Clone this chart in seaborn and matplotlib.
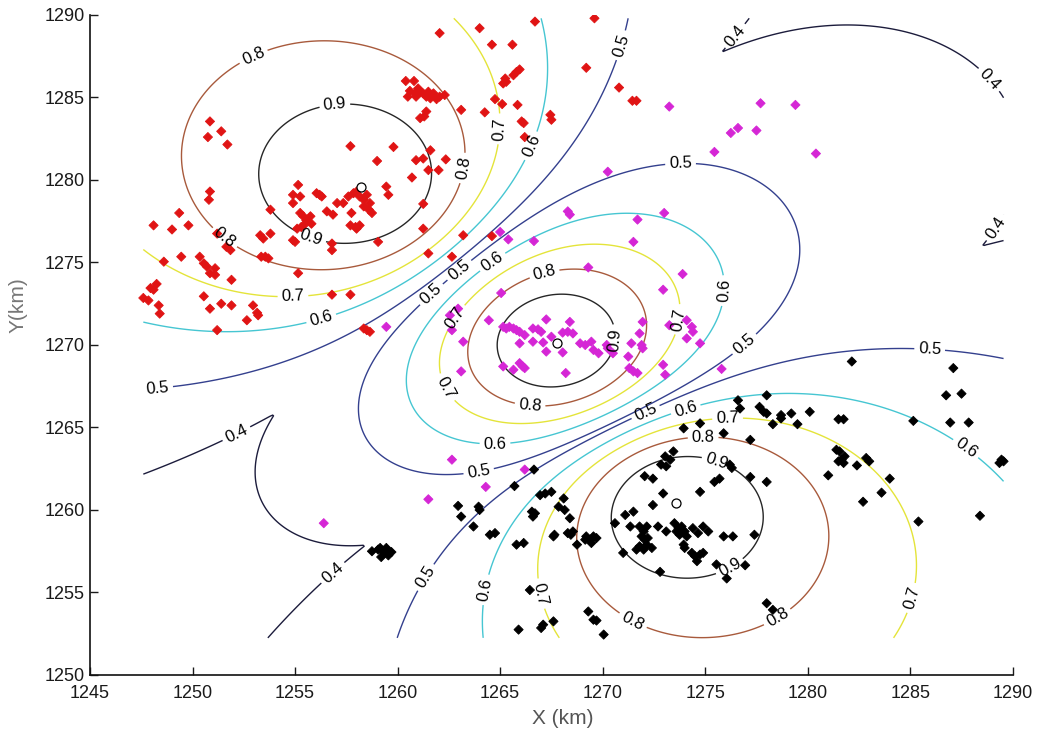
import numpy as np
import pandas as pd
import matplotlib
matplotlib.use("Agg")
import matplotlib.pyplot as plt
import seaborn as sns

# ---------------- data ----------------
centers_x = [1258.2, 1267.75, 1273.6]
centers_y = [1279.6, 1270.1, 1260.4]

levels = [0.4, 0.5, 0.6, 0.7, 0.8, 0.9]

red_pts = [
    (1260.4,1286.0),(1260.8,1286.0),(1260.5,1285.05),(1260.85,1285.25),(1260.9,1285.05),(1261.1,1285.35),
    (1261.25,1285.25),(1261.4,1285.05),(1261.6,1284.95),(1261.75,1285.25),(1261.9,1284.9),(1262.05,1285.05),
    (1262.3,1285.15),(1260.6,1285.4),(1261.0,1285.55),(1261.5,1285.35),
    (1263.1,1284.25),(1261.4,1284.15),(1261.1,1283.75),(1261.3,1283.85),
    (1250.85,1283.55),(1250.75,1282.6),(1251.4,1282.95),(1251.7,1282.15),
    (1257.7,1282.05),(1259.8,1282.0),(1259.0,1281.15),(1260.9,1281.2),(1261.25,1281.3),(1261.6,1281.8),
    (1262.35,1281.25),(1261.5,1280.6),(1262.0,1280.6),(1260.7,1280.15),
    (1250.85,1279.3),(1250.8,1278.8),(1255.15,1279.7),(1254.9,1279.1),(1255.25,1279.0),(1256.05,1279.2),
    (1256.2,1279.1),(1256.3,1279.0),(1254.9,1278.6),(1253.8,1278.2),
    (1257.05,1278.6),(1257.35,1278.6),(1257.6,1279.0),(1257.85,1279.2),(1258.0,1279.3),(1258.15,1279.0),
    (1258.35,1278.8),(1258.5,1279.1),(1258.65,1278.6),(1258.35,1278.4),(1258.6,1278.2),(1258.75,1278.0),
    (1257.75,1278.0),(1259.45,1279.6),(1259.55,1279.1),(1261.25,1278.55),(1256.55,1278.1),(1256.85,1277.9),
    (1255.25,1278.0),(1255.4,1277.8),(1255.55,1277.55),(1255.75,1277.8),(1255.5,1277.35),(1255.8,1277.35),
    (1255.3,1277.15),(1257.7,1277.25),(1257.95,1277.15),(1258.15,1277.25),(1258.0,1277.05),(1255.1,1277.05),
    (1261.25,1277.05),(1259.05,1276.25),(1256.8,1276.15),(1256.8,1275.75),(1254.9,1276.35),(1255.0,1276.25),
    (1253.3,1276.65),(1253.8,1276.75),(1253.45,1276.45),(1251.85,1275.75),(1251.65,1275.95),(1251.2,1276.75),
    (1249.35,1278.0),(1249.0,1277.0),(1249.8,1277.25),(1248.1,1277.25),
    (1249.45,1275.35),(1250.35,1275.35),(1250.55,1274.95),(1250.7,1274.75),(1251.1,1274.65),(1250.85,1274.35),
    (1251.1,1274.25),(1251.9,1273.95),(1253.35,1275.35),(1253.55,1275.35),(1253.7,1275.25),(1255.15,1274.35),
    (1261.5,1275.55),(1262.65,1275.35),(1256.8,1273.05),(1257.7,1273.05),(1250.55,1272.95),(1251.4,1272.5),
    (1251.9,1272.4),(1250.85,1272.2),(1252.95,1272.4),(1253.2,1271.8),(1253.15,1271.95),(1252.65,1271.5),
    (1248.25,1273.7),(1247.95,1273.45),(1248.1,1273.35),(1247.6,1272.85),(1247.85,1272.7),(1248.35,1272.4),
    (1248.4,1271.9),(1251.2,1270.9),(1258.5,1270.9),(1258.35,1271.0),(1258.65,1270.8),
    (1263.2,1276.65),(1248.6,1275.05),(1264.6,1276.6),
    (1262.05,1288.9),(1264.0,1289.2),(1264.6,1288.2),(1265.6,1288.2),(1266.7,1289.6),(1269.6,1289.8),
    (1269.2,1286.8),(1270.8,1285.6),(1271.45,1284.8),(1271.65,1284.8),(1265.8,1286.55),(1265.95,1286.7),
    (1265.65,1286.35),(1265.25,1286.15),(1265.15,1285.85),(1265.3,1285.95),(1264.75,1284.9),(1265.1,1284.6),
    (1265.85,1284.55),(1264.25,1284.1),(1266.05,1283.55),(1266.15,1283.45),(1267.45,1283.95),
    (1267.5,1283.65),(1266.2,1282.6),
]

magenta_pts = [
    (1268.3,1278.1),(1268.4,1277.9),(1271.7,1277.6),(1273.0,1278.0),(1265.0,1276.85),(1265.4,1276.4),
    (1266.65,1276.3),(1271.5,1276.25),(1269.3,1274.7),(1273.9,1274.3),(1272.95,1273.35),(1265.05,1273.15),
    (1262.55,1271.8),(1262.95,1272.2),(1262.65,1270.9),(1263.2,1270.2),(1264.45,1271.5),
    (1265.15,1271.1),(1265.3,1271.0),(1265.45,1271.1),(1265.65,1271.0),(1265.8,1270.9),(1265.95,1270.8),
    (1266.2,1270.6),(1266.6,1271.0),(1266.85,1270.95),(1267.0,1270.8),(1267.25,1271.55),(1268.4,1271.4),
    (1268.05,1270.75),(1268.3,1270.8),(1268.55,1270.7),(1267.5,1270.5),(1266.6,1270.2),(1267.1,1270.15),
    (1265.95,1270.1),(1267.25,1269.6),(1268.05,1269.55),(1268.9,1270.1),(1269.15,1270.0),(1269.45,1270.2),
    (1269.55,1269.7),(1269.8,1269.5),(1270.2,1270.0),(1270.25,1269.8),(1270.5,1269.5),(1271.4,1270.1),
    (1271.25,1269.3),(1271.8,1270.7),(1271.9,1270.0),(1271.95,1269.8),(1271.95,1271.4),(1273.25,1271.2),
    (1274.1,1271.5),(1274.35,1271.1),(1274.4,1270.8),(1274.1,1270.4),(1274.75,1270.1),(1272.95,1268.8),
    (1273.05,1268.2),(1271.3,1268.6),(1271.5,1268.4),(1271.7,1268.3),(1265.15,1268.7),(1265.65,1268.5),
    (1265.95,1268.9),(1266.1,1268.7),(1266.2,1268.6),(1263.1,1268.4),(1268.2,1268.3),(1275.8,1268.55),
    (1273.25,1284.45),(1277.7,1284.65),(1279.4,1284.55),(1276.6,1283.15),(1276.25,1282.85),(1277.5,1283.0),
    (1275.45,1281.7),(1280.4,1281.6),(1270.25,1280.5),
    (1256.4,1259.2),(1261.5,1260.65),(1262.65,1263.05),(1264.3,1261.4),(1266.2,1262.45),(1259.45,1271.1),
]

black_pts = [
    (1266.65,1262.45),(1265.7,1261.45),(1262.95,1260.25),(1263.1,1259.6),(1263.95,1260.2),(1264.0,1260.0),
    (1263.7,1259.0),(1266.95,1260.9),(1267.2,1261.0),(1267.5,1261.1),(1266.55,1259.9),(1266.7,1259.8),
    (1266.6,1259.6),(1267.85,1260.2),(1268.1,1260.7),(1268.15,1260.0),(1268.4,1259.5),(1267.6,1258.4),
    (1267.65,1258.5),(1268.3,1258.6),(1268.55,1258.7),(1268.45,1258.5),(1268.75,1257.9),(1264.5,1258.5),
    (1264.75,1258.6),(1265.8,1257.9),(1266.15,1258.0),
    (1269.2,1258.4),(1269.4,1258.2),(1269.55,1258.4),(1269.7,1258.3),(1269.45,1258.0),(1269.15,1258.2),
    (1270.6,1259.2),(1271.1,1259.7),(1271.5,1259.9),(1271.35,1259.0),(1272.05,1262.05),(1272.45,1261.9),
    (1272.95,1261.0),(1272.45,1260.3),(1271.0,1257.4),
    (1271.8,1259.0),(1272.0,1258.7),(1272.15,1259.0),(1271.9,1258.4),(1272.05,1258.2),(1272.2,1258.3),
    (1271.8,1257.8),(1272.0,1257.6),(1272.15,1257.9),(1272.4,1257.7),(1271.65,1257.6),
    (1272.7,1259.0),(1273.1,1258.7),(1273.5,1259.2),(1273.7,1258.9),(1273.85,1259.0),(1274.0,1258.7),
    (1273.75,1258.5),(1274.1,1258.4),(1273.6,1258.7),(1273.95,1257.9),(1274.0,1257.7),
    (1274.4,1258.9),(1274.65,1258.6),(1274.9,1259.0),(1275.15,1258.7),(1274.35,1257.4),(1274.5,1257.2),
    (1274.6,1256.9),(1274.75,1257.3),(1274.9,1257.4),(1274.75,1261.1),(1275.9,1258.4),(1276.35,1258.4),
    (1277.4,1258.5),(1275.55,1256.7),(1276.05,1255.85),(1276.95,1256.65),(1272.8,1256.25),
    (1273.05,1263.25),(1273.3,1263.05),(1273.45,1263.55),(1272.85,1262.75),(1273.1,1262.65),(1276.2,1262.75),
    (1275.7,1261.9),(1277.2,1262.0),(1278.0,1261.7),(1273.95,1264.95),(1274.75,1265.25),(1275.9,1264.65),
    (1277.2,1264.25),(1276.6,1266.65),(1276.7,1266.15),(1277.65,1266.25),(1277.85,1265.95),(1278.0,1265.85),
    (1278.0,1266.95),
    (1278.0,1254.35),(1278.3,1253.95),(1269.3,1253.85),(1269.55,1253.35),(1269.7,1253.3),(1270.05,1252.45),
    (1267.1,1253.05),(1267.6,1253.25),(1267.0,1252.85),(1265.9,1252.75),(1266.45,1255.15),
    (1258.75,1257.5),(1259.05,1257.6),(1259.3,1257.45),(1259.45,1257.7),(1259.7,1257.45),(1259.2,1257.15),
    (1259.55,1257.25),(1259.15,1257.7),
    (1282.15,1269.0),(1287.1,1268.6),(1286.75,1266.95),(1287.5,1267.05),(1286.95,1265.3),(1287.85,1265.3),
    (1285.15,1265.4),(1289.45,1263.05),(1289.55,1262.95),(1289.35,1262.85),(1288.4,1259.65),(1285.4,1259.3),
    (1283.6,1261.05),(1284.0,1261.9),(1282.7,1260.5),(1282.4,1262.7),(1282.85,1263.15),(1283.0,1262.95),
    (1281.4,1263.65),(1281.55,1263.55),(1281.5,1262.95),(1281.65,1263.05),(1281.8,1263.25),(1281.75,1262.85),
    (1281.0,1262.1),(1281.5,1265.5),(1281.75,1265.5),(1280.1,1265.95),(1279.2,1265.85),(1278.7,1265.75),
    (1278.7,1265.55),(1279.5,1265.2),(1278.3,1265.2),(1276.3,1262.55),(1275.45,1261.7),
]

x_ticks = [1245, 1250, 1255, 1260, 1265, 1270, 1275, 1280, 1285, 1290]
y_ticks = [1250, 1255, 1260, 1265, 1270, 1275, 1280, 1285, 1290]

# ---------------- build frames ----------------
frames = []
for name, pts in [("red", red_pts), ("magenta", magenta_pts), ("black", black_pts)]:
    a = np.array(pts)
    frames.append(pd.DataFrame({"x": a[:, 0], "y": a[:, 1], "cluster": name}))
df = pd.concat(frames, ignore_index=True)

# membership field (fuzzy c-means, m = 2) from the cluster centres
all_x = df["x"].to_numpy()
all_y = df["y"].to_numpy()
gx = np.linspace(all_x.min(), all_x.max(), 400)
gy = np.linspace(all_y.min() - 0.2, all_y.max(), 400)
GX, GY = np.meshgrid(gx, gy)
cx = np.array(centers_x)[:, None, None]
cy = np.array(centers_y)[:, None, None]
d2 = (GX[None] - cx) ** 2 + (GY[None] - cy) ** 2 + 1e-9
inv = 1.0 / d2
U = inv / inv.sum(axis=0)
Umax = U.max(axis=0)

# ---------------- plot ----------------
sns.set_theme(style="white")
plt.rcParams["font.family"] = ["Liberation Sans", "DejaVu Sans"]

fig = plt.figure(figsize=(10.38, 7.42), dpi=100)
ax = fig.add_axes([0.0867, 0.0903, 0.889, 0.8895])

line_colors = ["#1c1c3c", "#34408e", "#46c6d2", "#e4e43a", "#a85a3c", "#262626"]
cs = ax.contour(GX, GY, Umax, levels=levels, colors=line_colors, linewidths=1.0)

label_pos = [
    (1253.05, 1287.3), (1256.95, 1284.4), (1263.3, 1280.7), (1264.9, 1283.1), (1266.45, 1282.1),
    (1270.8, 1288.2), (1276.4, 1288.8), (1288.6, 1285.8), (1288.9, 1277.3), (1273.8, 1280.9),
    (1251.5, 1276.4), (1255.7, 1276.2), (1254.9, 1272.9), (1256.3, 1271.5), (1248.3, 1267.4),
    (1262.9, 1274.7), (1261.7, 1273.0), (1264.65, 1275.0), (1267.2, 1274.2), (1263.0, 1271.5),
    (1270.7, 1270.3), (1273.9, 1271.5), (1275.8, 1273.3), (1262.2, 1267.3), (1266.45, 1266.2),
    (1264.75, 1264.0), (1264.0, 1262.0), (1272.05, 1266.06), (1274.06, 1266.06), (1276.1, 1265.45),
    (1274.9, 1264.36), (1275.5, 1262.7), (1277.2, 1269.6), (1285.95, 1269.8), (1287.66, 1263.64),
    (1252.17, 1264.55), (1256.95, 1256.06), (1276.2, 1256.55), (1261.58, 1255.76), (1264.4, 1255.15),
    (1266.7, 1254.85), (1271.3, 1252.9), (1278.6, 1253.33), (1285.4, 1254.55),
]
ax.clabel(cs, inline=True, fmt="%.1f", fontsize=12, colors="black", manual=label_pos)

palette = {"red": "#e01414", "magenta": "#d526d5", "black": "#000000"}
sns.scatterplot(data=df, x="x", y="y", hue="cluster", palette=palette, marker="D",
                s=22, linewidth=0.6, edgecolor=None, legend=False, ax=ax, zorder=3)
sns.scatterplot(x=centers_x, y=centers_y, marker="o", s=42, facecolor="white",
                edgecolor="black", linewidth=0.9, legend=False, ax=ax, zorder=4)

ax.set_xlim(1245, 1290)
ax.set_ylim(1250, 1290)
ax.set_xticks(x_ticks)
ax.set_yticks(y_ticks)
ax.tick_params(direction="in", length=6, width=1, labelsize=13, colors="#1a1a1a",
               top=False, right=False)
ax.tick_params(axis="x", bottom=True, pad=7)
ax.tick_params(axis="y", left=True, pad=4)
for side in ["top", "right"]:
    ax.spines[side].set_visible(False)
for side in ["left", "bottom"]:
    ax.spines[side].set_color("#111111")
    ax.spines[side].set_linewidth(1.2)
ax.set_xlabel("X (km)", fontsize=15, color="#555555")
ax.set_ylabel("Y(km)", fontsize=15, color="#777777")
ax.xaxis.set_label_coords(0.512, -0.052)
ax.yaxis.set_label_coords(-0.068, 0.56)
ax.grid(False)

fig.savefig("out.png", dpi=100)
